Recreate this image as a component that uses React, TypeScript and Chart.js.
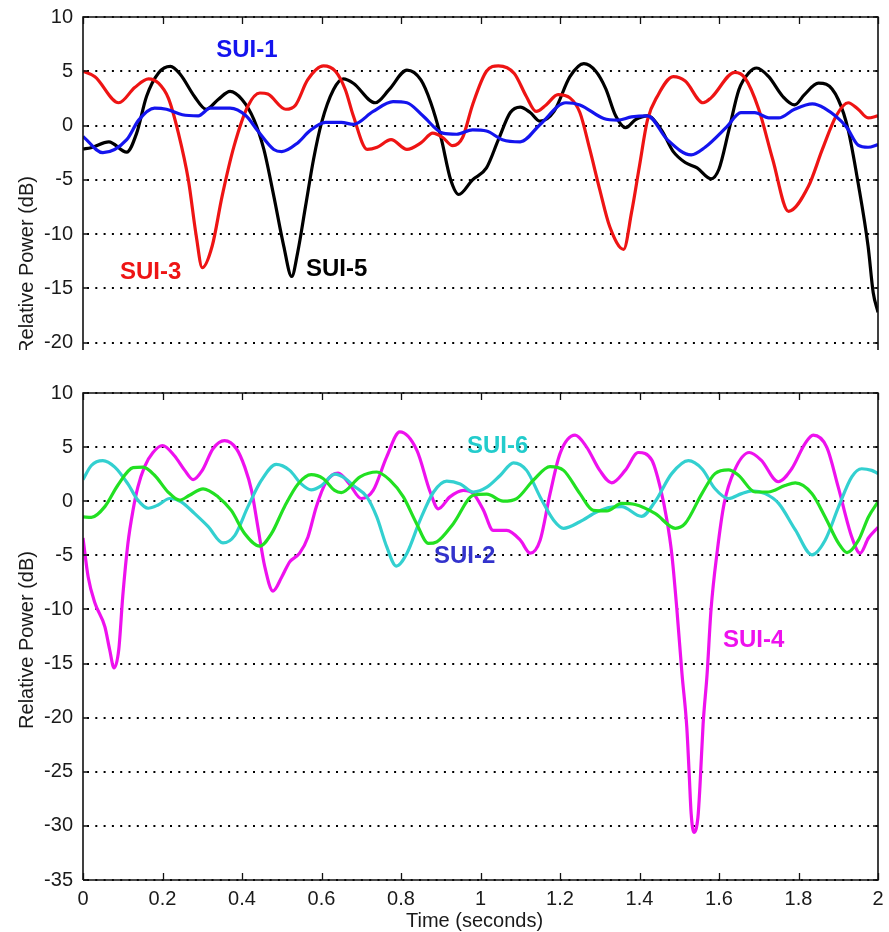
import { useEffect, useRef } from 'react';
import { Chart, registerables } from 'chart.js';

Chart.register(...registerables);

const FONT = '"Liberation Sans", Arial, Helvetica, sans-serif';
const TEXT = '#1a1a1a';

// ---------- tick values / labels ----------
const X_TICKS = [0, 0.2, 0.4, 0.6, 0.8, 1, 1.2, 1.4, 1.6, 1.8, 2];
const X_TICK_LABELS = ['0', '0.2', '0.4', '0.6', '0.8', '1', '1.2', '1.4', '1.6', '1.8', '2'];
const Y_TICKS_TOP = [-20, -15, -10, -5, 0, 5, 10];
const Y_TICKS_BOTTOM = [-35, -30, -25, -20, -15, -10, -5, 0, 5, 10];

// ---------- top panel ----------
const SUI1_T = [0, 0.05, 0.11, 0.14, 0.18, 0.21, 0.25, 0.29, 0.32, 0.37, 0.41, 0.44, 0.48, 0.50, 0.54, 0.57, 0.61, 0.65, 0.68, 0.73, 0.78, 0.815, 0.855, 0.905, 0.94, 0.98, 1.015, 1.055, 1.10, 1.15, 1.215, 1.25, 1.31, 1.345, 1.38, 1.42, 1.47, 1.53, 1.565, 1.62, 1.655, 1.69, 1.725, 1.75, 1.79, 1.835, 1.865, 1.92, 1.95, 1.975, 2.0];
const SUI1_V = [-1.0, -2.5, -1.3, 0.5, 1.6, 1.5, 1.0, 0.9, 1.6, 1.6, 0.9, -0.5, -2.2, -2.4, -1.6, -0.5, 0.3, 0.3, 0.1, 1.3, 2.2, 2.1, 0.9, -0.7, -0.8, -0.4, -0.5, -1.3, -1.5, 0.1, 2.1, 1.9, 0.65, 0.5, 0.8, 0.9, -1.3, -2.7, -2.0, -0.1, 1.2, 1.2, 0.7, 0.7, 1.5, 2.0, 1.6, -0.1, -1.8, -2.0, -1.75];

const SUI3_T = [0, 0.03, 0.09, 0.13, 0.165, 0.19, 0.215, 0.24, 0.265, 0.285, 0.30, 0.325, 0.35, 0.38, 0.415, 0.445, 0.465, 0.51, 0.535, 0.565, 0.605, 0.635, 0.66, 0.68, 0.715, 0.74, 0.775, 0.815, 0.85, 0.88, 0.905, 0.93, 0.955, 0.98, 1.015, 1.045, 1.085, 1.115, 1.14, 1.165, 1.195, 1.225, 1.25, 1.275, 1.30, 1.325, 1.36, 1.38, 1.40, 1.42, 1.445, 1.485, 1.515, 1.56, 1.58, 1.64, 1.665, 1.70, 1.735, 1.775, 1.825, 1.86, 1.895, 1.925, 1.95, 1.975, 2.0];
const SUI3_V = [5.0, 4.5, 2.1, 3.5, 4.3, 3.9, 2.5, -0.7, -5.0, -10.2, -13.1, -11.1, -6.5, -1.9, 1.8, 3.0, 2.9, 1.5, 1.9, 4.2, 5.5, 5.0, 3.3, 0.9, -2.2, -2.0, -1.3, -2.2, -1.6, -0.7, -1.1, -1.85, -1.1, 1.9, 5.0, 5.5, 4.8, 2.7, 1.3, 1.9, 2.85, 2.55, 1.2, -2.2, -5.9, -9.3, -11.4, -8.0, -3.7, 0.5, 2.7, 4.5, 4.1, 2.1, 2.55, 4.9, 4.4, 1.5, -3.1, -7.9, -5.6, -2.2, 0.9, 2.1, 1.5, 0.7, 0.9];

const SUI5_T = [0, 0.02, 0.065, 0.11, 0.135, 0.16, 0.19, 0.22, 0.245, 0.28, 0.31, 0.34, 0.37, 0.40, 0.43, 0.455, 0.48, 0.505, 0.525, 0.54, 0.56, 0.58, 0.60, 0.63, 0.655, 0.68, 0.735, 0.77, 0.815, 0.85, 0.875, 0.90, 0.925, 0.945, 0.98, 1.015, 1.045, 1.075, 1.10, 1.125, 1.15, 1.185, 1.225, 1.26, 1.29, 1.315, 1.34, 1.365, 1.39, 1.42, 1.455, 1.485, 1.515, 1.545, 1.58, 1.60, 1.625, 1.65, 1.675, 1.695, 1.725, 1.76, 1.79, 1.815, 1.85, 1.87, 1.90, 1.925, 1.95, 1.975, 1.988, 2.0];
const SUI5_V = [-2.15, -2.05, -1.5, -2.45, -0.7, 2.7, 4.85, 5.45, 4.7, 2.7, 1.5, 2.4, 3.15, 2.4, 0.55, -2.2, -6.5, -11.1, -13.9, -11.7, -7.4, -3.1, 0.25, 3.3, 4.3, 3.9, 2.1, 3.3, 5.1, 4.2, 2.1, -1.0, -5.0, -6.35, -5.0, -3.9, -1.3, 1.2, 1.7, 1.2, 0.4, 1.3, 4.5, 5.7, 5.0, 3.4, 0.9, -0.2, 0.55, 0.9, -0.4, -2.4, -3.4, -3.9, -4.9, -4.0, -0.4, 3.3, 4.85, 5.3, 4.5, 2.7, 1.9, 2.85, 3.9, 3.8, 2.4, -0.4, -5.3, -11.1, -15.4, -17.2];

// ---------- bottom panel ----------
const SUI2_T = [0, 0.021, 0.055, 0.088, 0.126, 0.151, 0.18, 0.214, 0.243, 0.268, 0.302, 0.34, 0.373, 0.407, 0.445, 0.474, 0.507, 0.541, 0.574, 0.604, 0.633, 0.65, 0.697, 0.739, 0.772, 0.806, 0.839, 0.869, 0.89, 0.932, 0.982, 1.016, 1.057, 1.091, 1.133, 1.175, 1.209, 1.25, 1.284, 1.318, 1.355, 1.389, 1.44, 1.49, 1.515, 1.557, 1.59, 1.624, 1.649, 1.691, 1.724, 1.766, 1.792, 1.834, 1.867, 1.901, 1.922, 1.951, 1.976, 2.0];
const SUI2_V = [-1.45, -1.5, -0.5, 1.5, 3.1, 3.15, 2.4, 0.85, 0.1, 0.55, 1.15, 0.4, -0.85, -3.0, -4.15, -3.0, -0.5, 1.6, 2.45, 2.1, 1.0, 0.8, 2.25, 2.7, 1.95, 0.4, -2.05, -3.9, -3.75, -2.05, 0.55, 0.65, 0.0, 0.25, 1.95, 3.2, 2.85, 0.7, -0.85, -0.9, -0.2, -0.3, -1.15, -2.5, -2.05, 0.7, 2.55, 2.9, 2.4, 0.85, 0.85, 1.45, 1.7, 0.7, -1.45, -3.9, -4.75, -3.6, -1.45, -0.05];

const SUI6_T = [0, 0.021, 0.05, 0.08, 0.113, 0.138, 0.164, 0.189, 0.218, 0.247, 0.281, 0.315, 0.352, 0.382, 0.415, 0.449, 0.486, 0.52, 0.549, 0.574, 0.60, 0.633, 0.66, 0.68, 0.714, 0.739, 0.764, 0.788, 0.815, 0.848, 0.882, 0.915, 0.949, 0.982, 1.016, 1.05, 1.083, 1.116, 1.15, 1.184, 1.209, 1.25, 1.292, 1.32, 1.355, 1.405, 1.439, 1.481, 1.523, 1.557, 1.59, 1.624, 1.657, 1.683, 1.716, 1.75, 1.792, 1.834, 1.867, 1.901, 1.934, 1.959, 1.984, 2.0];
const SUI6_V = [2.0, 3.3, 3.75, 3.15, 1.6, 0.1, -0.65, -0.35, 0.25, -0.05, -1.15, -2.35, -3.85, -3.15, -0.5, 1.95, 3.4, 2.85, 1.6, 1.05, 1.45, 2.5, 2.1, 1.45, 0.4, -1.45, -4.2, -6.0, -4.8, -1.75, 0.85, 1.85, 1.6, 0.85, 1.3, 2.4, 3.55, 2.85, 0.4, -1.75, -2.5, -1.9, -1.0, -0.6, -0.5, -1.4, -0.05, 2.55, 3.75, 3.0, 1.15, 0.25, 0.7, 0.95, 0.7, -0.2, -2.65, -4.95, -3.6, -0.5, 2.25, 3.0, 2.85, 2.55];

const SUI4_T = [0, 0.013, 0.03, 0.055, 0.067, 0.078, 0.09, 0.10, 0.113, 0.126, 0.138, 0.155, 0.176, 0.20, 0.23, 0.256, 0.277, 0.30, 0.327, 0.356, 0.386, 0.407, 0.424, 0.44, 0.457, 0.478, 0.50, 0.52, 0.545, 0.566, 0.587, 0.612, 0.642, 0.67, 0.70, 0.73, 0.764, 0.797, 0.84, 0.873, 0.894, 0.923, 0.957, 0.982, 1.007, 1.032, 1.066, 1.10, 1.125, 1.15, 1.175, 1.20, 1.238, 1.267, 1.30, 1.33, 1.364, 1.397, 1.431, 1.452, 1.469, 1.481, 1.494, 1.507, 1.519, 1.525, 1.53, 1.537, 1.547, 1.552, 1.56, 1.57, 1.58, 1.596, 1.613, 1.639, 1.676, 1.706, 1.749, 1.783, 1.816, 1.837, 1.871, 1.90, 1.934, 1.955, 1.976, 2.0];
const SUI4_V = [-3.4, -7.0, -9.4, -11.6, -13.7, -15.4, -13.7, -8.8, -3.9, -0.8, 1.3, 3.2, 4.5, 5.15, 4.2, 2.85, 2.0, 2.85, 4.85, 5.6, 4.85, 3.15, 1.0, -2.4, -6.0, -8.3, -7.0, -5.6, -4.8, -3.3, -0.5, 1.8, 2.6, 1.6, 0.25, 1.0, 4.1, 6.4, 4.7, 0.9, -0.7, 0.4, 1.0, 0.7, -0.8, -2.7, -2.7, -3.6, -4.8, -3.6, 0.7, 4.4, 6.1, 5.0, 2.85, 1.7, 2.85, 4.5, 3.8, 1.3, -1.75, -4.8, -10.0, -16.0, -20.9, -25.2, -28.9, -30.6, -29.2, -26.4, -20.6, -16.0, -10.0, -4.5, -0.2, 2.85, 4.5, 3.8, 1.8, 3.0, 5.3, 6.1, 5.0, 1.3, -3.3, -4.8, -3.4, -2.4];

// ---------- curve labels (data coordinates) ----------
const TOP_LABELS = [
  { text: 'SUI-1', x: 0.335, y: 6.96, color: '#1414ee' },
  { text: 'SUI-3', x: 0.093, y: -13.55, color: '#ee1414' },
  { text: 'SUI-5', x: 0.561, y: -13.27, color: '#000000' },
];
const BOTTOM_LABELS = [
  { text: 'SUI-6', x: 0.966, y: 5.05, color: '#22cccc' },
  { text: 'SUI-2', x: 0.883, y: -5.14, color: '#3333cc' },
  { text: 'SUI-4', x: 1.61, y: -12.84, color: '#ee11ee' },
];

const zip = (t: number[], v: number[]) =>
  t.slice(0, Math.min(t.length, v.length)).map((x, i) => ({ x, y: v[i] }));

const series = (label: string, t: number[], v: number[], color: string) => ({
  label,
  data: zip(t, v),
  borderColor: color,
  backgroundColor: color,
  borderWidth: 3.2,
  pointRadius: 0,
  cubicInterpolationMode: 'monotone' as const,
  fill: false,
});

const decor = {
  id: 'decor',
  beforeDatasetsDraw(chart: any, _a: any, o: any) {
    const { ctx, chartArea: a, scales } = chart;
    const y = scales.y;
    ctx.save();
    ctx.strokeStyle = '#000';
    ctx.lineWidth = 2;
    ctx.setLineDash([2, 6.3]);
    for (const v of o.yTicks) {
      const py = Math.round(y.getPixelForValue(v));
      ctx.beginPath();
      ctx.moveTo(a.left + 4, py);
      ctx.lineTo(a.right, py);
      ctx.stroke();
    }
    ctx.restore();
  },
  afterDatasetsDraw(chart: any, _a: any, o: any) {
    const { ctx, chartArea: a, scales } = chart;
    const x = scales.x;
    const y = scales.y;
    ctx.save();
    // frame
    ctx.strokeStyle = '#111';
    ctx.lineWidth = 1.6;
    ctx.setLineDash([]);
    ctx.beginPath();
    const lowEnd = o.closedBottom ? a.bottom : a.bottom + 3;
    ctx.moveTo(a.left, lowEnd);
    ctx.lineTo(a.left, a.top);
    ctx.lineTo(a.right, a.top);
    ctx.lineTo(a.right, lowEnd);
    if (o.closedBottom) ctx.lineTo(a.left, a.bottom);
    ctx.stroke();
    // inward ticks
    ctx.lineWidth = 1.3;
    ctx.beginPath();
    for (const v of X_TICKS) {
      const px = Math.round(x.getPixelForValue(v)) + 0.5;
      ctx.moveTo(px, a.top);
      ctx.lineTo(px, a.top + 7);
      if (o.closedBottom) {
        ctx.moveTo(px, a.bottom);
        ctx.lineTo(px, a.bottom - 7);
      }
    }
    for (const v of o.yTicks) {
      const py = Math.round(y.getPixelForValue(v));
      ctx.moveTo(a.left, py);
      ctx.lineTo(a.left + 5, py);
      ctx.moveTo(a.right - 5, py);
      ctx.lineTo(a.right, py);
    }
    ctx.stroke();
    // curve labels
    ctx.font = `bold 24px ${FONT}`;
    ctx.textAlign = 'left';
    ctx.textBaseline = 'middle';
    for (const l of o.labels) {
      ctx.fillStyle = l.color;
      ctx.fillText(l.text, x.getPixelForValue(l.x), y.getPixelForValue(l.y));
    }
    // axis titles
    ctx.fillStyle = TEXT;
    ctx.font = `20px ${FONT}`;
    ctx.textAlign = 'center';
    ctx.save();
    ctx.translate(27, o.yTitleY);
    ctx.rotate(-Math.PI / 2);
    ctx.fillText('Relative Power (dB)', 0, 0);
    ctx.restore();
    if (o.xTitle) {
      ctx.fillText(o.xTitle, (a.left + a.right) / 2 - 6, o.xTitleY);
    }
    ctx.restore();
  },
};

function makeConfig(datasets: any[], yMin: number, yMax: number, yTicks: number[], showX: boolean, padding: any, decorOpts: any): any {
  return {
    type: 'line',
    data: { datasets },
    options: {
      responsive: false,
      animation: false,
      layout: { padding },
      plugins: { legend: { display: false }, tooltip: { enabled: false }, decor: { ...decorOpts, yTicks } },
      scales: {
        x: {
          type: 'linear',
          min: 0,
          max: 2,
          display: true,
          grid: { display: false, drawTicks: false },
          border: { display: false },
          afterBuildTicks: (s: any) => { s.ticks = X_TICKS.map((v) => ({ value: v })); },
          ticks: {
            display: showX,
            padding: 7,
            color: TEXT,
            font: { family: FONT, size: 20 },
            maxRotation: 0,
            autoSkip: false,
            callback: (_v: any, i: number) => X_TICK_LABELS[i],
          },
          afterFit: (s: any) => {
            s.height = showX ? 52 : 3;
            s.paddingLeft = 0;
            s.paddingRight = 0;
          },
        },
        y: {
          type: 'linear',
          min: yMin,
          max: yMax,
          grid: { display: false, drawTicks: false },
          border: { display: false },
          afterBuildTicks: (s: any) => { s.ticks = yTicks.map((v) => ({ value: v })); },
          ticks: {
            padding: 10,
            color: TEXT,
            font: { family: FONT, size: 20 },
            autoSkip: false,
            callback: (v: any) => String(v),
          },
          afterFit: (s: any) => {
            s.width = 83;
            s.paddingTop = 0;
            s.paddingBottom = 0;
          },
        },
      },
    },
    plugins: [decor],
  };
}

export default function App() {
  const topRef = useRef<HTMLCanvasElement>(null);
  const botRef = useRef<HTMLCanvasElement>(null);

  useEffect(() => {
    const top = new Chart(
      topRef.current as HTMLCanvasElement,
      makeConfig(
        [
          series('SUI-1', SUI1_T, SUI1_V, '#1414ee'),
          series('SUI-3', SUI3_T, SUI3_V, '#ee1414'),
          series('SUI-5', SUI5_T, SUI5_V, '#000000'),
        ],
        -20.4,
        10,
        Y_TICKS_TOP,
        false,
        { top: 17, right: 11, bottom: 0, left: 0 },
        { labels: TOP_LABELS, yTitleY: 265, closedBottom: false }
      )
    );
    const bottom = new Chart(
      botRef.current as HTMLCanvasElement,
      makeConfig(
        [
          series('SUI-2', SUI2_T, SUI2_V, '#22e022'),
          series('SUI-6', SUI6_T, SUI6_V, '#33d0d0'),
          series('SUI-4', SUI4_T, SUI4_V, '#ee11ee'),
        ],
        -35,
        10,
        Y_TICKS_BOTTOM,
        true,
        { top: 43, right: 11, bottom: 0, left: 0 },
        { labels: BOTTOM_LABELS, yTitleY: 290, closedBottom: true, xTitle: 'Time (seconds)', xTitleY: 571 }
      )
    );
    return () => {
      top.destroy();
      bottom.destroy();
    };
  }, []);

  return (
    <div style={{ position: 'absolute', left: 0, top: 0, width: 889, height: 932, background: '#fff' }}>
      <canvas ref={topRef} width={889} height={350} style={{ position: 'absolute', left: 0, top: 0 }} />
      <canvas ref={botRef} width={889} height={582} style={{ position: 'absolute', left: 0, top: 350 }} />
    </div>
  );
}
